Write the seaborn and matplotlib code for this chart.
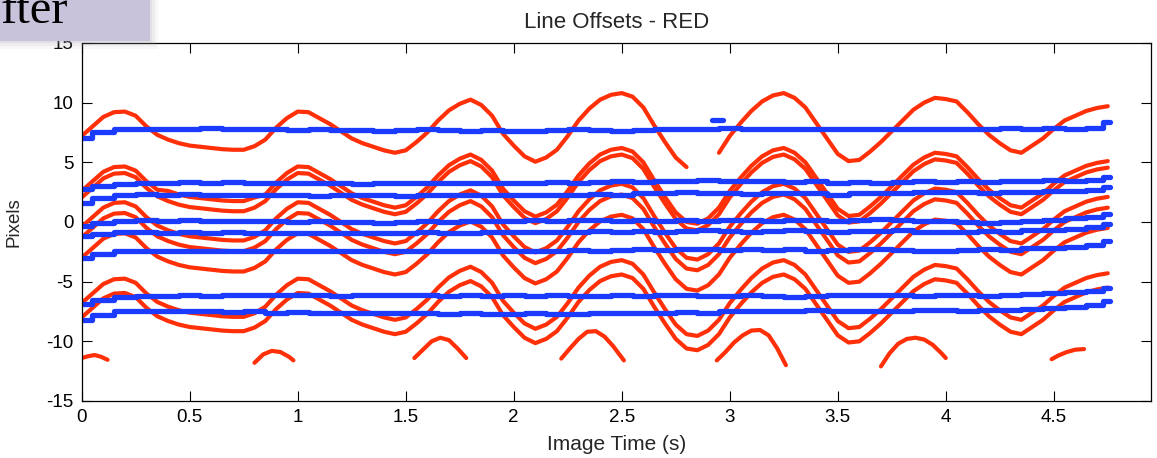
# Line Offsets - RED : décalages des lignes (rouge = oscillant, bleu = corrigé)

import numpy as np
import pandas as pd
import seaborn as sns
import matplotlib.pyplot as plt
from matplotlib.patches import Rectangle

# ---- données ----
t_red = np.round(np.arange(0, 4.76, 0.05), 2)                 # 0 .. 4.75 s
t_blue = np.r_[np.round(np.arange(0, 4.75, 0.1), 2), 4.76]    # 0 .. 4.76 s

red_1 = [7.2, 8.0, 8.8, 9.2, 9.25, 8.9, 8.0, 7.3, 6.9, 6.6,
         6.4, 6.3, 6.2, 6.1, 6.05, 6.05, 6.35, 6.9, 7.9, 8.7,
         9.25, 9.2, 8.7, 8.2, 7.6, 7.0, 6.6, 6.3, 6.0, 5.8,
         6.0, 6.7, 7.5, 8.5, 9.35, 9.9, 10.25, 9.8, 8.9, 7.4,
         6.4, 5.5, 5.05, 5.4, 6.05, 7.2, 8.5, 9.5, 10.25, 10.65,
         10.8, 10.5, 9.6, 8.1, 6.7, 5.4, 4.6, np.nan, np.nan, 5.8,
         7.2, 8.3, 9.3, 10.1, 10.6, 10.8, 10.4, 9.6, 8.3, 7.0,
         5.7, 5.1, 5.2, 5.9, 6.7, 7.6, 8.5, 9.4, 10.0, 10.4,
         10.3, 10.1, 9.2, 8.2, 7.3, 6.6, 6.0, 5.8, 6.4, 7.0,
         7.8, 8.5, 8.9, 9.3, 9.55, 9.7]
red_2 = [2.6, 3.4, 4.2, 4.6, 4.65, 4.3, 3.4, 2.7, 2.6, 2.3,
         2.1, 2.0, 1.9, 1.8, 1.75, 1.75, 2.05, 2.3, 3.3, 4.1,
         4.65, 4.6, 4.1, 3.6, 3.0, 2.4, 2.0, 1.7, 1.4, 1.2,
         1.4, 2.1, 2.9, 3.9, 4.75, 5.3, 5.65, 5.2, 4.3, 2.8,
         1.8, 0.9, 0.45, 0.8, 1.45, 2.6, 3.9, 4.9, 5.65, 6.05,
         6.2, 5.9, 5.0, 3.5, 2.1, 0.8, 0.0, -0.15, 0.3, 1.2,
         2.6, 3.7, 4.7, 5.5, 6.0, 6.2, 5.8, 5.0, 3.7, 2.4,
         1.1, 0.5, 0.6, 1.3, 2.1, 3.0, 3.9, 4.8, 5.4, 5.8,
         5.7, 5.5, 4.6, 3.6, 2.7, 2.0, 1.4, 1.2, 1.8, 2.4,
         3.2, 3.9, 4.3, 4.7, 4.95, 5.1]
red_3 = [2.05, 2.85, 3.65, 4.05, 4.1, 3.75, 2.85, 2.15, 1.75, 1.45,
         1.25, 1.15, 1.05, 0.95, 0.9, 0.9, 1.2, 1.75, 2.75, 3.55,
         4.1, 4.05, 3.55, 3.05, 2.45, 1.85, 1.45, 1.15, 0.85, 0.65,
         0.85, 1.55, 2.35, 3.35, 4.2, 4.75, 5.1, 4.65, 3.75, 2.25,
         1.25, 0.35, -0.1, 0.25, 0.9, 2.05, 3.35, 4.35, 5.1, 5.5,
         5.65, 5.35, 4.45, 2.95, 1.55, 0.25, -0.55, -0.7, -0.25, 0.65,
         2.05, 3.15, 4.15, 4.95, 5.45, 5.65, 5.25, 4.45, 3.15, 1.85,
         0.55, -0.05, 0.05, 0.75, 1.55, 2.45, 3.35, 4.25, 4.85, 5.25,
         5.15, 4.95, 4.05, 3.05, 2.15, 1.45, 0.85, 0.65, 1.25, 1.85,
         2.65, 3.35, 3.75, 4.15, 4.4, 4.55]
red_4 = [-0.4, 0.4, 1.2, 1.6, 1.65, 1.3, 0.4, -0.3, -0.7, -1.0,
         -1.2, -1.3, -1.4, -1.5, -1.55, -1.55, -1.25, -0.7, 0.3, 1.1,
         1.65, 1.6, 1.1, 0.6, 0.0, -0.6, -1.0, -1.3, -1.6, -1.8,
         -1.6, -0.9, -0.1, 0.9, 1.75, 2.3, 2.65, 2.2, 1.3, -0.2,
         -1.2, -2.1, -2.55, -2.2, -1.55, -0.4, 0.9, 1.9, 2.65, 3.05,
         3.2, 2.9, 2.0, 0.5, -0.9, -2.2, -3.0, -3.15, -2.7, -1.8,
         -0.4, 0.7, 1.7, 2.5, 3.0, 3.2, 2.8, 2.0, 0.7, -0.6,
         -1.9, -2.5, -2.4, -1.7, -0.9, 0.0, 0.9, 1.8, 2.4, 2.8,
         2.7, 2.5, 1.6, 0.6, -0.3, -1.0, -1.6, -1.8, -1.2, -0.6,
         0.2, 0.9, 1.3, 1.7, 1.95, 2.1]
red_5 = [-1.3, -0.5, 0.3, 0.7, 0.75, 0.4, -0.5, -1.2, -1.6, -1.9,
         -2.1, -2.2, -2.3, -2.4, -2.45, -2.45, -2.15, -1.6, -0.6, 0.2,
         0.75, 0.7, 0.2, -0.3, -0.9, -1.5, -1.9, -2.2, -2.5, -2.7,
         -2.5, -1.8, -1.0, 0.0, 0.85, 1.4, 1.75, 1.3, 0.4, -1.1,
         -2.1, -3.0, -3.45, -3.1, -2.45, -1.3, 0.0, 1.0, 1.75, 2.15,
         2.3, 2.0, 1.1, -0.4, -1.8, -3.1, -3.9, -4.05, -3.6, -2.7,
         -1.3, -0.2, 0.8, 1.6, 2.1, 2.3, 1.9, 1.1, -0.2, -1.5,
         -2.8, -3.4, -3.3, -2.6, -1.8, -0.9, 0.0, 0.9, 1.5, 1.9,
         1.8, 1.6, 0.7, -0.3, -1.2, -1.9, -2.5, -2.7, -2.1, -1.5,
         -0.7, 0.0, 0.4, 0.8, 1.05, 1.2]
red_6 = [-3.0, -2.2, -1.4, -1.0, -0.95, -1.3, -2.2, -2.9, -3.3, -3.6,
         -3.8, -3.9, -4.0, -4.1, -4.15, -4.15, -3.85, -3.3, -2.3, -1.5,
         -0.95, -1.0, -1.5, -2.0, -2.6, -3.2, -3.6, -3.9, -4.2, -4.4,
         -4.2, -3.5, -2.7, -1.7, -0.85, -0.3, 0.05, -0.4, -1.3, -2.8,
         -3.8, -4.7, -5.15, -4.8, -4.15, -3.0, -1.7, -0.7, 0.05, 0.45,
         0.6, 0.3, -0.6, -2.1, -3.5, -4.8, -5.6, -5.75, -5.3, -4.4,
         -3.0, -1.9, -0.9, -0.1, 0.4, 0.6, 0.2, -0.6, -1.9, -3.2,
         -4.5, -5.1, -5.0, -4.3, -3.5, -2.6, -1.7, -0.8, -0.2, 0.2,
         0.1, -0.1, -1.0, -2.0, -2.9, -3.6, -4.2, -4.4, -3.8, -3.2,
         -2.4, -1.7, -1.3, -0.9, -0.65, -0.5]
red_7 = [-6.8, -6.0, -5.2, -4.8, -4.75, -5.1, -6.0, -6.7, -7.1, -7.4,
         -7.6, -7.7, -7.8, -7.9, -7.95, -7.95, -7.65, -7.1, -6.1, -5.3,
         -4.75, -4.8, -5.3, -5.8, -6.4, -7.0, -7.4, -7.7, -8.0, -8.2,
         -8.0, -7.3, -6.5, -5.5, -4.65, -4.1, -3.75, -4.2, -5.1, -6.6,
         -7.6, -8.5, -8.95, -8.6, -7.95, -6.8, -5.5, -4.5, -3.75, -3.35,
         -3.2, -3.5, -4.4, -5.9, -7.3, -8.6, -9.4, -9.55, -9.1, -8.2,
         -6.8, -5.7, -4.7, -3.9, -3.4, -3.2, -3.6, -4.4, -5.7, -7.0,
         -8.3, -8.9, -8.8, -8.1, -7.3, -6.4, -5.5, -4.6, -4.0, -3.6,
         -3.7, -3.9, -4.8, -5.8, -6.7, -7.4, -8.0, -8.2, -7.6, -7.0,
         -6.2, -5.5, -5.1, -4.7, -4.45, -4.3]
red_8 = [-8.0, -7.2, -6.4, -6.0, -5.95, -6.3, -7.2, -7.9, -8.3, -8.6,
         -8.8, -8.9, -9.0, -9.1, -9.15, -9.15, -8.85, -8.3, -7.3, -6.5,
         -5.95, -6.0, -6.5, -7.0, -7.6, -8.2, -8.6, -8.9, -9.2, -9.4,
         -9.2, -8.5, -7.7, -6.7, -5.85, -5.3, -4.95, -5.4, -6.3, -7.8,
         -8.8, -9.7, -10.15, -9.8, -9.15, -8.0, -6.7, -5.7, -4.95, -4.55,
         -4.4, -4.7, -5.6, -7.1, -8.5, -9.8, -10.6, -10.75, -10.3, -9.4,
         -8.0, -6.9, -5.9, -5.1, -4.6, -4.4, -4.8, -5.6, -6.9, -8.2,
         -9.5, -10.1, -10.0, -9.3, -8.5, -7.6, -6.7, -5.8, -5.2, -4.8,
         -4.9, -5.1, -6.0, -7.0, -7.9, -8.6, -9.2, -9.4, -8.8, -8.2,
         -7.4, -6.7, -6.3, -5.9, -5.65, -5.5]

# petits arcs en bas (séparés par nan)
bottom_t = [0.00, 0.03, 0.06, 0.09, 0.12, np.nan,
            0.80, 0.84, 0.88, 0.92, 0.96, 0.98, np.nan,
            1.54, 1.58, 1.62, 1.66, 1.70, 1.74, 1.78, np.nan,
            2.22, 2.26, 2.30, 2.34, 2.38, 2.42, 2.46, 2.51, np.nan,
            2.94, 2.98, 3.02, 3.06, 3.10, 3.14, 3.18, 3.22, 3.26, np.nan,
            3.70, 3.74, 3.78, 3.82, 3.86, 3.90, 3.94, 3.98, 4.00, np.nan,
            4.49, 4.52, 4.56, 4.60, 4.64]
bottom_v = [-11.4, -11.25, -11.15, -11.3, -11.55, np.nan,
            -11.8, -11.1, -10.8, -10.9, -11.3, -11.6, np.nan,
            -11.4, -10.7, -10.0, -9.7, -9.9, -10.6, -11.4, np.nan,
            -11.45, -10.6, -9.8, -9.2, -9.15, -9.6, -10.4, -11.6, np.nan,
            -11.6, -10.9, -10.1, -9.5, -9.1, -9.05, -9.5, -10.6, -12.0, np.nan,
            -12.1, -11.0, -10.2, -9.8, -9.7, -9.85, -10.3, -11.0, -11.4, np.nan,
            -11.5, -11.2, -10.9, -10.7, -10.65]

blue_1 = [7.0, 7.5, 7.75, 7.8, 7.75, 7.8, 7.85, 7.8, 7.75, 7.8,
          7.7, 7.75, 7.7, 7.7, 7.65, 7.7, 7.75, 7.7, 7.65, 7.7,
          7.6, 7.65, 7.7, 7.75, 7.7, 7.65, 7.7, 7.75, 7.8, 7.8,
          7.85, 7.8, 7.75, 7.8, 7.8, 7.75, 7.8, 7.8, 7.75, 7.8,
          7.8, 7.75, 7.8, 7.85, 7.8, 7.85, 7.8, 7.9, 8.4]
blue_2 = [2.8, 3.0, 3.2, 3.3, 3.3, 3.35, 3.3, 3.35, 3.3, 3.3,
          3.25, 3.3, 3.25, 3.2, 3.25, 3.3, 3.25, 3.3, 3.3, 3.3,
          3.3, 3.3, 3.35, 3.3, 3.35, 3.4, 3.35, 3.45, 3.45, 3.5,
          3.4, 3.45, 3.4, 3.35, 3.4, 3.3, 3.35, 3.3, 3.35, 3.4,
          3.35, 3.4, 3.35, 3.4, 3.45, 3.5, 3.45, 3.5, 3.8]
blue_3 = [1.6, 2.0, 2.25, 2.35, 2.3, 2.35, 2.25, 2.3, 2.3, 2.25,
          2.25, 2.2, 2.25, 2.3, 2.25, 2.2, 2.25, 2.3, 2.25, 2.25,
          2.25, 2.3, 2.25, 2.3, 2.35, 2.3, 2.4, 2.45, 2.5, 2.45,
          2.4, 2.35, 2.4, 2.45, 2.4, 2.3, 2.4, 2.45, 2.4, 2.5,
          2.55, 2.5, 2.45, 2.5, 2.55, 2.6, 2.6, 2.7, 2.95]
blue_4 = [-0.3, -0.05, 0.1, 0.15, 0.1, 0.15, 0.1, 0.1, 0.05, 0.1,
          0.0, 0.05, 0.0, 0.0, -0.05, 0.0, 0.05, 0.0, 0.05, 0.05,
          0.1, 0.15, 0.1, 0.2, 0.15, 0.1, 0.2, 0.1, 0.15, 0.1,
          0.2, 0.15, 0.1, 0.2, 0.15, 0.1, 0.15, 0.25, 0.2, 0.1,
          0.05, 0.0, -0.05, 0.0, 0.1, 0.2, 0.3, 0.45, 0.7]
blue_5 = [-1.2, -1.0, -0.85, -0.8, -0.9, -0.85, -0.9, -0.85, -0.9, -0.9,
          -0.95, -0.9, -0.9, -0.95, -0.9, -0.9, -0.85, -0.9, -0.9, -0.85,
          -0.85, -0.8, -0.85, -0.8, -0.75, -0.8, -0.75, -0.8, -0.75, -0.7,
          -0.75, -0.8, -0.75, -0.7, -0.75, -0.8, -0.75, -0.75, -0.7, -0.8,
          -0.85, -0.8, -0.75, -0.8, -0.7, -0.65, -0.55, -0.45, -0.2]
blue_6 = [-3.0, -2.7, -2.45, -2.4, -2.4, -2.45, -2.4, -2.4, -2.45, -2.4,
          -2.45, -2.4, -2.45, -2.45, -2.4, -2.45, -2.4, -2.45, -2.45, -2.4,
          -2.4, -2.45, -2.4, -2.35, -2.4, -2.35, -2.3, -2.35, -2.3, -2.3,
          -2.35, -2.3, -2.35, -2.3, -2.4, -2.35, -2.3, -2.3, -2.35, -2.4,
          -2.4, -2.35, -2.3, -2.35, -2.2, -2.2, -2.1, -1.95, -1.6]
blue_7 = [-6.9, -6.55, -6.3, -6.2, -6.2, -6.15, -6.2, -6.1, -6.15, -6.15,
          -6.1, -6.15, -6.2, -6.15, -6.15, -6.1, -6.15, -6.2, -6.15, -6.2,
          -6.15, -6.2, -6.15, -6.2, -6.2, -6.15, -6.2, -6.1, -6.15, -6.2,
          -6.2, -6.15, -6.2, -6.25, -6.2, -6.15, -6.1, -6.15, -6.15, -6.2,
          -6.1, -6.15, -6.2, -6.1, -6.0, -5.95, -5.9, -5.8, -5.55]
blue_8 = [-8.2, -7.8, -7.5, -7.45, -7.5, -7.45, -7.5, -7.55, -7.5, -7.6,
          -7.55, -7.6, -7.65, -7.6, -7.65, -7.6, -7.65, -7.7, -7.65, -7.7,
          -7.7, -7.65, -7.7, -7.7, -7.65, -7.6, -7.65, -7.6, -7.55, -7.6,
          -7.5, -7.45, -7.5, -7.45, -7.4, -7.5, -7.45, -7.5, -7.45, -7.4,
          -7.4, -7.45, -7.4, -7.35, -7.3, -7.2, -7.1, -6.95, -6.6]
# petit tiret isolé au-dessus de la ligne du haut
dash_t = [2.92, 2.97]
dash_v = [8.55, 8.55]

RED = '#ff3008'
BLUE = '#1b3cff'


def segments(t, v, name):
    # coupe la série aux nan pour ne pas relier les morceaux
    df = pd.DataFrame({'t': t, 'v': v})
    seg = df['v'].isna().cumsum()
    df['trace'] = name + '_' + seg.astype(str)
    return df.dropna()


red_series = [red_1, red_2, red_3, red_4, red_5, red_6, red_7, red_8]
red_df = pd.concat([segments(t_red, s, f'r{i}') for i, s in enumerate(red_series)]
                   + [segments(bottom_t, bottom_v, 'bottom')], ignore_index=True)

blue_series = [blue_1, blue_2, blue_3, blue_4, blue_5, blue_6, blue_7, blue_8]
blue_df = pd.concat([segments(t_blue, s, f'b{i}') for i, s in enumerate(blue_series)]
                    + [segments(dash_t, dash_v, 'dash')], ignore_index=True)

# ---- style ----
sns.set_theme(style='ticks')
plt.rcParams['font.family'] = ['Liberation Sans', 'DejaVu Sans']
plt.rcParams['axes.unicode_minus'] = False

fig = plt.figure(figsize=(11.57, 4.58), dpi=100)
ax = fig.add_axes([0.0706, 0.1245, 0.9242, 0.7817])

sns.lineplot(data=red_df, x='t', y='v', units='trace', estimator=None, sort=False,
             color=RED, lw=3.0, legend=False, ax=ax)
sns.lineplot(data=blue_df, x='t', y='v', units='trace', estimator=None, sort=False,
             color=BLUE, lw=3.8, drawstyle='steps-mid', legend=False, ax=ax)

ax.set_xlim(0, 4.95)
ax.set_ylim(-15, 15)
xt = np.arange(0, 4.51, 0.5)
ax.set_xticks(xt)
ax.set_xticklabels([f'{x:g}' for x in xt])
ax.set_yticks(range(-15, 16, 5))
ax.tick_params(direction='in', length=7, width=0.8, top=True, right=True,
               labelsize=13.5, labelcolor='black', color='black', pad=6)
for sp in ax.spines.values():
    sp.set_color('black')
    sp.set_linewidth(0.9)

ax.set_title('Line Offsets - RED', fontsize=16, pad=11)
ax.set_xlabel('Image Time (s)', fontsize=15, labelpad=6)
ax.set_ylabel('Pixels', fontsize=13.5)
ax.yaxis.set_label_coords(-0.055, 0.5)

# ---- encart violet coupé en haut à gauche (reste d'une diapo) ----
W, H = 1157, 458
for off, a in [(8, 0.08), (5, 0.12), (2, 0.18)]:
    fig.add_artist(Rectangle((0, 1 - (41 + off) / H), (150 + off) / W, (41 + off) / H,
                             transform=fig.transFigure, color='#a8a4ae', alpha=a,
                             lw=0, zorder=9))
fig.add_artist(Rectangle((0, 1 - 41 / H), 150 / W, 41 / H, transform=fig.transFigure,
                         color='#c9c2db', lw=0, zorder=10))
fig.text(1 / W, 1 - 23 / H, 'fter', fontsize=35, family=['Liberation Serif', 'DejaVu Serif'],
         color='black', va='baseline', ha='left', zorder=11)

fig.savefig('out.png', dpi=100)
